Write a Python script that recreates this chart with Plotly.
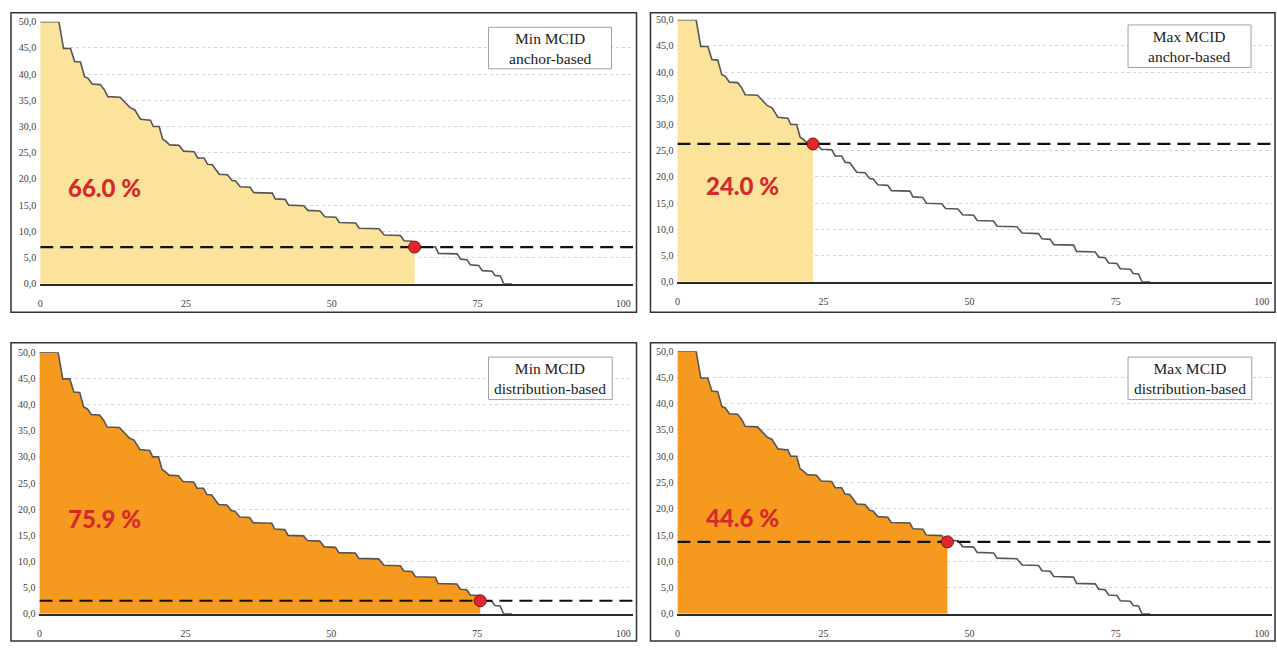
import numpy as np
import plotly.graph_objects as go

W, H = 1277, 649

# Step curve (x = % of patients, y = score change)
curve_x = [0, 3.2, 4.0, 5.2, 5.9, 6.9, 7.6, 8.2, 8.9, 10.3,
           11.0, 11.6, 13.7, 14.6, 15.4, 16.2, 17.2, 18.9, 19.4, 20.4,
           21.0, 21.5, 22.2, 23.8, 24.6, 26.4, 27.0, 28.1, 28.7, 29.5,
           30.1, 30.7, 32.1, 32.9, 33.5, 34.3, 36.0, 36.6, 39.8, 40.3,
           42.0, 42.6, 45.2, 45.9, 48.0, 48.8, 50.7, 51.3, 54.1, 54.7,
           58.1, 59.0, 61.8, 62.4, 63.8, 64.4, 67.8, 68.3, 71.5, 72.1,
           73.2, 73.8, 75.2, 75.8, 77.5, 78.0, 78.9, 79.5, 80.9]
curve_y = [50, 50, 44.9, 44.9, 42.4, 42.3, 39.5, 39.2, 38.1, 38.0,
           37.0, 35.7, 35.6, 34.6, 33.6, 33.2, 31.4, 31.2, 30.0, 30.0,
           27.6, 27.2, 26.5, 26.4, 25.3, 25.2, 24.0, 24.0, 22.8, 22.7,
           21.8, 20.9, 20.8, 19.7, 19.6, 18.5, 18.4, 17.4, 17.3, 16.2,
           16.1, 15.0, 14.9, 14.0, 13.9, 12.8, 12.7, 11.7, 11.6, 10.6,
           10.5, 9.3, 9.2, 8.2, 8.1, 7.1, 7.0, 5.8, 5.7, 4.7,
           4.6, 3.6, 3.5, 2.5, 2.4, 1.6, 1.5, 0, 0]

panel_titles = ["Min MCID<br>anchor-based", "Max MCID<br>anchor-based",
                "Min MCID<br>distribution-based", "Max MCID<br>distribution-based"]
percent_labels = ["66.0 %", "24.0 %", "75.9 %", "44.6 %"]
mcid_y = [7.0, 26.3, 2.5, 13.7]          # dashed threshold
cut_x = [64.2, 23.2, 75.5, 46.2]          # red dot / end of fill
fill_colors = ["#FBE39C", "#FBE39C", "#F6991F", "#F6991F"]

x_ticks = [0, 25, 50, 75, 100]
y_ticks = [0, 5, 10, 15, 20, 25, 30, 35, 40, 45, 50]

# pixel geometry
plot_px = [  # x0, x1, ytop(50), ybottom(0)
    (37.3, 631.7, 16, 283),
    (676, 1271.7, 14, 281),
    (36.5, 631.7, 352.7, 619.3),
    (676, 1271.7, 351.7, 619.3),
]
frame_px = [(8, 7, 635, 312), (649, 7, 1275, 312), (8, 343, 635, 647), (649, 343, 1275, 647)]
box_px = [(486.7, 21.7, 610, 64), (1127.7, 19.3, 1251, 62.7),
          (486.7, 357.7, 610.7, 401), (1127.7, 357.7, 1251.7, 401)]


def X(px):
    return px / W


def Y(py):
    return 1 - py / H


fig = go.Figure()
layout = dict(width=W, height=H, margin=dict(l=0, r=0, t=0, b=0),
              paper_bgcolor="white", plot_bgcolor="white", showlegend=False,
              separators=", ")
shapes, annotations = [], []
cx = np.array(curve_x, float)
cy = np.array(curve_y, float)

for i in range(4):
    n = "" if i == 0 else str(i + 1)
    xa, ya = "x" + n, "y" + n
    x0, x1, yt, yb = plot_px[i]
    layout["xaxis" + n] = dict(domain=[X(x0), X(x1)], range=[0, 101.7], anchor=ya,
                               tickvals=x_ticks, ticktext=[str(t) for t in x_ticks],
                               showgrid=False, zeroline=False, showline=True,
                               linecolor="#2a2a2a", linewidth=1.8, ticks="",
                               ticklabelstandoff=9,
                               tickfont=dict(family="Liberation Serif", size=10, color="#404040"),
                               fixedrange=True)
    layout["yaxis" + n] = dict(domain=[Y(yb), Y(yt)], range=[0, 50], anchor=xa,
                               tickvals=y_ticks, tickformat=".1f",
                               showgrid=True, gridcolor="#d4d4d4", griddash="dot", gridwidth=1,
                               zeroline=False, showline=False, ticks="",
                               ticklabelstandoff=3,
                               tickfont=dict(family="Liberation Serif", size=10, color="#404040"),
                               fixedrange=True)

    # filled area up to the cut point
    xc = cut_x[i]
    yc = float(np.interp(xc, cx, cy))
    mask = cx < xc
    fx = list(cx[mask]) + [xc]
    fy = list(cy[mask]) + [yc]
    fig.add_trace(go.Scatter(x=fx, y=fy, mode="lines", fill="tozeroy",
                             fillcolor=fill_colors[i], line=dict(width=0, color=fill_colors[i]),
                             xaxis=xa, yaxis=ya, hoverinfo="skip"))
    # step curve
    fig.add_trace(go.Scatter(x=curve_x, y=curve_y, mode="lines",
                             line=dict(color="#555555", width=1.6),
                             xaxis=xa, yaxis=ya, hoverinfo="skip"))
    # dashed MCID line
    fig.add_trace(go.Scatter(x=[0, 101.7], y=[mcid_y[i], mcid_y[i]], mode="lines",
                             line=dict(color="#111111", width=2.2, dash="13px,7px"),
                             xaxis=xa, yaxis=ya, hoverinfo="skip"))
    # red dot
    fig.add_trace(go.Scatter(x=[xc], y=[mcid_y[i]], mode="markers",
                             marker=dict(size=12, color="#E3262B", line=dict(color="#7a1212", width=1)),
                             xaxis=xa, yaxis=ya, hoverinfo="skip", cliponaxis=False))
    # percentage label
    annotations.append(dict(x=11.1, y=18.3, xref=xa, yref=ya, text=percent_labels[i],
                            showarrow=False,
                            font=dict(family="Lato", size=24, color="#D42A2A", weight=900),
                            xanchor="center", yanchor="middle"))
    # panel frame
    fx0, fy0, fx1, fy1 = frame_px[i]
    shapes.append(dict(type="rect", xref="paper", yref="paper",
                       x0=X(fx0), x1=X(fx1), y0=Y(fy1), y1=Y(fy0),
                       line=dict(color="#333333", width=1.5), fillcolor="rgba(0,0,0,0)", layer="above"))
    # title box
    bx0, by0, bx1, by1 = box_px[i]
    shapes.append(dict(type="rect", xref="paper", yref="paper",
                       x0=X(bx0), x1=X(bx1), y0=Y(by1), y1=Y(by0),
                       line=dict(color="#a0a0a0", width=1), fillcolor="white", layer="above"))
    annotations.append(dict(x=X((bx0 + bx1) / 2), y=Y((by0 + by1) / 2), xref="paper", yref="paper",
                            text=panel_titles[i], showarrow=False, align="center",
                            font=dict(family="Liberation Serif", size=15.5, color="#222222"),
                            xanchor="center", yanchor="middle"))

layout["shapes"] = shapes
layout["annotations"] = annotations
fig.update_layout(**layout)
fig.write_html("out.html", config={"displayModeBar": False, "staticPlot": True},
               post_script="document.body.style.margin='0';document.body.style.overflow='hidden';")
